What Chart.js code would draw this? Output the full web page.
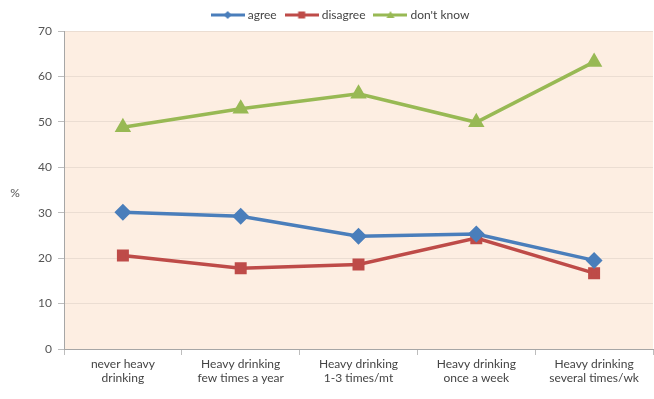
<!DOCTYPE html>
<html>
<head>
<meta charset="utf-8">
<script src="https://cdn.jsdelivr.net/npm/chart.js@4"></script>
<style>
  html, body { margin: 0; padding: 0; background: #fff; }
  #wrap { width: 654px; height: 399px; }
</style>
</head>
<body>
<div id="wrap"><canvas id="chart" width="654" height="399"></canvas></div>
<script>
// categories and series (percent)
const categories = [
    ['never heavy', 'drinking'],
    ['Heavy drinking', 'few times a year'],
    ['Heavy drinking', '1-3 times/mt'],
    ['Heavy drinking', 'once a week'],
    ['Heavy drinking', 'several times/wk']
];
const agree = [30.1, 29.2, 24.8, 25.3, 19.5];
const disagree = [20.6, 17.8, 18.6, 24.4, 16.7];
const dontKnow = [48.8, 52.9, 56.2, 49.9, 63.2];
const yTicks = [0, 10, 20, 30, 40, 50, 60, 70];

const FONT = 'Lato, "Open Sans", sans-serif';

// small canvas with a line and a marker, used as the legend symbol
function legendIcon(color, shape) {
    const c = document.createElement('canvas');
    c.width = 34; c.height = 12;
    const g = c.getContext('2d');
    g.strokeStyle = color;
    g.lineWidth = 3;
    g.beginPath(); g.moveTo(0, 6); g.lineTo(34, 6); g.stroke();
    g.fillStyle = color;
    g.beginPath();
    if (shape === 'diamond') {
        g.moveTo(17, 2); g.lineTo(21, 6); g.lineTo(17, 10); g.lineTo(13, 6);
    } else if (shape === 'square') {
        g.rect(13.5, 2.5, 7, 7);
    } else {
        g.moveTo(17, 2); g.lineTo(21, 9); g.lineTo(13, 9);
    }
    g.closePath(); g.fill();
    return c;
}

const plotBg = {
    id: 'plotBg',
    afterLayout(chart) {
        // legend sits a little right of the canvas centre
        chart.legend.left += 30;
    },
    beforeDraw(chart) {
        const { ctx, chartArea: a } = chart;
        ctx.save();
        ctx.fillStyle = '#fdeee2';
        ctx.fillRect(a.left, a.top, a.right - a.left, a.bottom - a.top);
        ctx.restore();
    },
    afterDraw(chart) {
        const { ctx } = chart;
        ctx.save();
        ctx.fillStyle = '#555';
        ctx.font = '12px ' + FONT;
        ctx.textAlign = 'center';
        ctx.textBaseline = 'middle';
        ctx.fillText('%', 15, 193);
        ctx.restore();
    }
};

const colors = { agree: '#4a7ebb', disagree: '#be4b48', dont: '#98b954' };

new Chart(document.getElementById('chart'), {
    type: 'line',
    data: {
        labels: categories,
        datasets: [
            {
                label: 'agree', data: agree,
                borderColor: colors.agree, backgroundColor: colors.agree,
                borderWidth: 3.5, pointStyle: 'rectRot', pointRadius: 6,
                legendIcon: legendIcon(colors.agree, 'diamond')
            },
            {
                label: 'disagree', data: disagree,
                borderColor: colors.disagree, backgroundColor: colors.disagree,
                borderWidth: 3.5, pointStyle: 'rect', pointRadius: 6,
                legendIcon: legendIcon(colors.disagree, 'square')
            },
            {
                label: "don't know", data: dontKnow,
                borderColor: colors.dont, backgroundColor: colors.dont,
                borderWidth: 3.5, pointStyle: 'triangle', pointRadius: 6,
                legendIcon: legendIcon(colors.dont, 'triangle')
            }
        ]
    },
    options: {
        responsive: false,
        animation: false,
        layout: { autoPadding: false, padding: { left: 0, right: 1, top: -2, bottom: 0 } },
        plugins: {
            tooltip: { enabled: false },
            legend: {
                position: 'top',
                labels: {
                    usePointStyle: true,
                    pointStyleWidth: 28,
                    padding: 11,
                    color: '#444',
                    font: { family: FONT, size: 12 },
                    generateLabels(chart) {
                        return chart.data.datasets.map((ds, i) => ({
                            text: ds.label,
                            pointStyle: ds.legendIcon,
                            fillStyle: ds.borderColor,
                            strokeStyle: ds.borderColor,
                            lineWidth: 0,
                            fontColor: '#444',
                            datasetIndex: i
                        }));
                    }
                }
            }
        },
        scales: {
            x: {
                offset: true,
                grid: {
                    offset: true,
                    drawOnChartArea: false,
                    drawTicks: true,
                    tickLength: 6,
                    color: '#bdbdbd'
                },
                border: { color: '#a6a6a6', width: 1 },
                ticks: {
                    color: '#444',
                    font: { family: FONT, size: 12 },
                    maxRotation: 0,
                    padding: 2
                },
                afterFit(scale) {
                    scale.height = 50;
                    scale.paddingLeft = 0;
                    scale.paddingRight = 0;
                }
            },
            y: {
                min: 0, max: 70,
                afterBuildTicks(scale) { scale.ticks = yTicks.map(v => ({ value: v })); },
                grid: {
                    color: 'rgba(0,0,0,0.07)',
                    tickColor: '#bdbdbd',
                    tickLength: 6
                },
                border: { color: '#a6a6a6', width: 1 },
                ticks: {
                    color: '#555',
                    font: { family: FONT, size: 12 },
                    padding: 6
                },
                afterFit(scale) {
                    scale.width = 64;
                    scale.paddingTop = 0;
                    scale.paddingBottom = 0;
                }
            }
        }
    },
    plugins: [plotBg]
});
</script>
</body>
</html>
